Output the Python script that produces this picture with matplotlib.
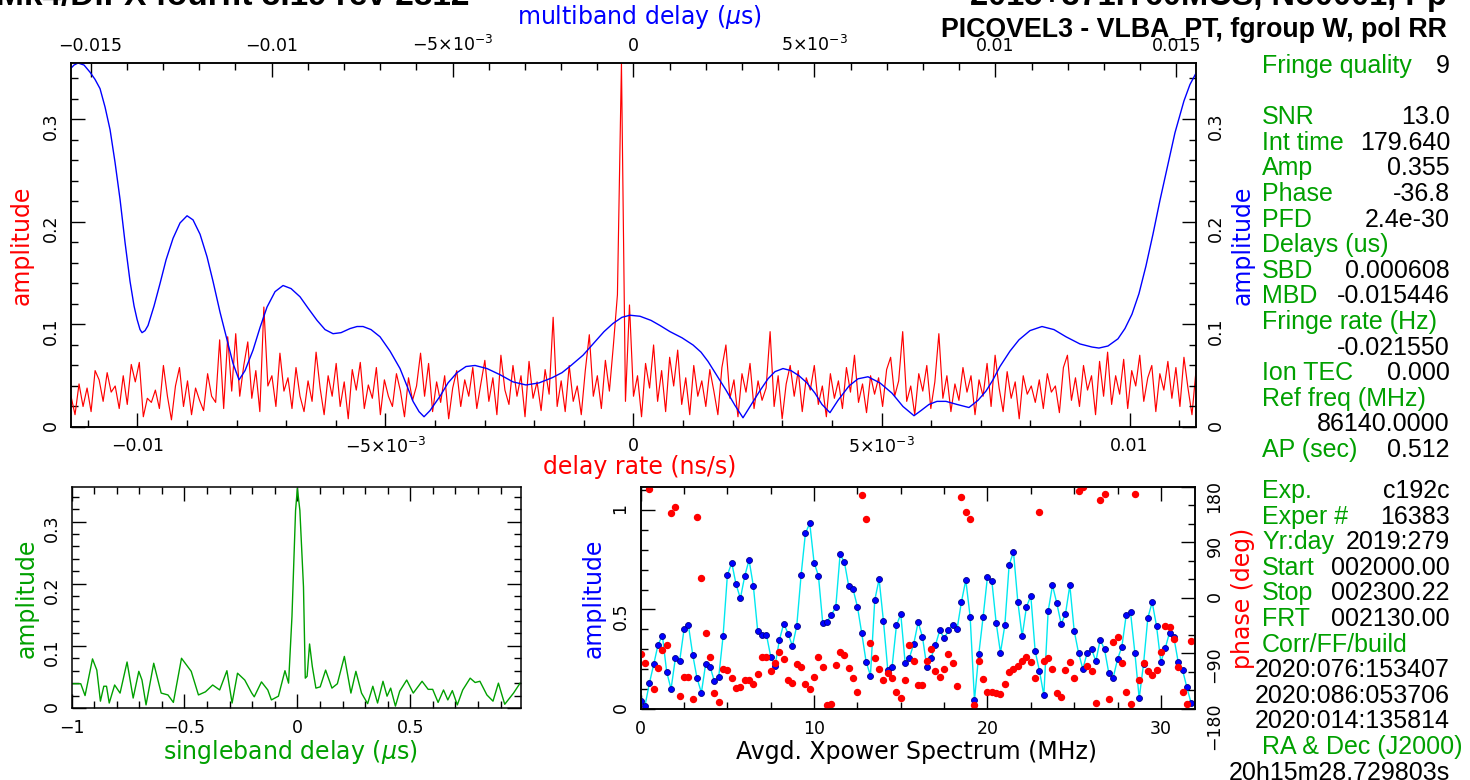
import numpy as np
import matplotlib
matplotlib.use('Agg')
import matplotlib.pyplot as plt
from matplotlib.ticker import MultipleLocator

# colores estilo fourfit
RED = '#ff0000'
BLUE = '#0000ff'
GREEN = '#00a000'
CYAN = '#00e8f0'

W, H = 1470, 780

# espectro de delay rate (ns/s), curva roja
rate_lo, rate_hi = -0.01134, 0.01134
rate_amp = [
    0.030, 0.012, 0.042, 0.020, 0.038, 0.015, 0.055, 0.046, 0.025, 0.053, 0.034, 0.040, 0.018, 0.050, 0.022, 0.061, 0.044, 0.063, 0.010, 0.028,
    0.024, 0.036, 0.018, 0.060, 0.030, 0.007, 0.040, 0.058, 0.020, 0.045, 0.012, 0.038, 0.026, 0.016, 0.052, 0.030, 0.024, 0.085, 0.018, 0.088,
    0.035, 0.091, 0.030, 0.060, 0.083, 0.028, 0.055, 0.015, 0.117, 0.040, 0.050, 0.020, 0.072, 0.035, 0.048, 0.018, 0.058, 0.030, 0.015, 0.045,
    0.025, 0.073, 0.038, 0.012, 0.050, 0.030, 0.062, 0.020, 0.044, 0.008, 0.056, 0.036, 0.063, 0.018, 0.041, 0.028, 0.058, 0.012, 0.046, 0.030,
    0.020, 0.052, 0.035, 0.010, 0.048, 0.026, 0.040, 0.072, 0.030, 0.062, 0.015, 0.044, 0.024, 0.050, 0.008, 0.038, 0.055, 0.020, 0.046, 0.030,
    0.058, 0.018, 0.042, 0.065, 0.025, 0.048, 0.012, 0.070, 0.036, 0.022, 0.060, 0.030, 0.050, 0.010, 0.064, 0.028, 0.044, 0.016, 0.056, 0.032,
    0.107, 0.020, 0.045, 0.015, 0.060, 0.025, 0.040, 0.012, 0.055, 0.090, 0.030, 0.050, 0.018, 0.065, 0.035, 0.080, 0.129, 0.355, 0.025, 0.119,
    0.030, 0.050, 0.010, 0.062, 0.038, 0.080, 0.025, 0.055, 0.015, 0.068, 0.040, 0.075, 0.022, 0.048, 0.012, 0.060, 0.030, 0.045, 0.020, 0.056,
    0.035, 0.012, 0.058, 0.080, 0.028, 0.046, 0.010, 0.052, 0.034, 0.062, 0.018, 0.045, 0.026, 0.038, 0.093, 0.020, 0.050, 0.008, 0.042, 0.060,
    0.030, 0.055, 0.015, 0.048, 0.036, 0.060, 0.022, 0.040, 0.010, 0.052, 0.028, 0.045, 0.018, 0.058, 0.034, 0.070, 0.024, 0.042, 0.014, 0.050,
    0.032, 0.048, 0.020, 0.056, 0.068, 0.030, 0.045, 0.093, 0.025, 0.040, 0.012, 0.052, 0.035, 0.060, 0.018, 0.044, 0.091, 0.028, 0.050, 0.015,
    0.042, 0.026, 0.058, 0.034, 0.050, 0.012, 0.046, 0.030, 0.062, 0.020, 0.070, 0.038, 0.015, 0.054, 0.028, 0.044, 0.008, 0.050, 0.032, 0.040,
    0.024, 0.046, 0.018, 0.052, 0.034, 0.040, 0.014, 0.058, 0.070, 0.026, 0.048, 0.020, 0.060, 0.036, 0.050, 0.012, 0.064, 0.030, 0.073, 0.022,
    0.050, 0.032, 0.066, 0.018, 0.055, 0.040, 0.070, 0.025, 0.048, 0.060, 0.015, 0.052, 0.036, 0.064, 0.028, 0.058, 0.020, 0.068, 0.038, 0.012, 0.055,
]

# multiband delay (us), curva azul
mbd = [-0.015539, -0.015456, -0.015345, -0.015180, -0.015014, -0.014876, -0.014738, -0.014599, -0.014461, -0.014323,
       -0.014185, -0.014047, -0.013909, -0.013798, -0.013715, -0.013633, -0.013577, -0.013494, -0.013412, -0.013246,
       -0.013080, -0.012914, -0.012721, -0.012528, -0.012334, -0.012169, -0.011975, -0.011782, -0.011616, -0.011423,
       -0.011229, -0.011064, -0.010898, -0.010732, -0.010511, -0.010318, -0.010124, -0.009903, -0.009682, -0.009461,
       -0.009213, -0.008992, -0.008743, -0.008522, -0.008301, -0.008080, -0.007831, -0.007638, -0.007472, -0.007251,
       -0.007003, -0.006726, -0.006450, -0.006257, -0.006091, -0.005925, -0.005787, -0.005622, -0.005345, -0.005124,
       -0.004876, -0.004627, -0.004378, -0.004047, -0.003688, -0.003329, -0.002970, -0.002610, -0.002251, -0.001975,
       -0.001727, -0.001395, -0.001091, -0.000815, -0.000566, -0.000318, -0.000097, 0.000180, 0.000483, 0.000732,
       0.001008, 0.001340, 0.001644, 0.001865, 0.002058, 0.002307, 0.002555, 0.002804, 0.003025, 0.003218,
       0.003467, 0.003715, 0.003909, 0.004130, 0.004351, 0.004572, 0.004793, 0.005014, 0.005207, 0.005428,
       0.005649, 0.005953, 0.006202, 0.006478, 0.006809, 0.007141, 0.007445, 0.007749, 0.007942, 0.008163,
       0.008384, 0.008633, 0.008936, 0.009268, 0.009517, 0.009738, 0.009931, 0.010124, 0.010401, 0.010649,
       0.010953, 0.011285, 0.011616, 0.011948, 0.012334, 0.012666, 0.012859, 0.013108, 0.013384, 0.013577,
       0.013771, 0.013964, 0.014157, 0.014351, 0.014544, 0.014765, 0.014959, 0.015207, 0.015373, 0.015539]
mbd_amp = [0.350, 0.353, 0.355, 0.353, 0.346, 0.339, 0.330, 0.312, 0.290, 0.258,
           0.222, 0.180, 0.142, 0.118, 0.105, 0.095, 0.092, 0.094, 0.099, 0.118,
           0.140, 0.163, 0.184, 0.199, 0.206, 0.202, 0.188, 0.166, 0.142, 0.112,
           0.085, 0.062, 0.046, 0.055, 0.075, 0.097, 0.117, 0.132, 0.138, 0.135,
           0.127, 0.116, 0.104, 0.095, 0.091, 0.092, 0.096, 0.098, 0.098, 0.095,
           0.088, 0.074, 0.057, 0.040, 0.025, 0.015, 0.010, 0.016, 0.030, 0.043,
           0.053, 0.059, 0.060, 0.057, 0.051, 0.044, 0.041, 0.043, 0.048, 0.053,
           0.060, 0.070, 0.082, 0.093, 0.101, 0.107, 0.109, 0.108, 0.104, 0.099,
           0.093, 0.087, 0.080, 0.073, 0.064, 0.050, 0.036, 0.021, 0.009, 0.020,
           0.034, 0.047, 0.054, 0.057, 0.055, 0.050, 0.043, 0.033, 0.022, 0.014,
           0.026, 0.040, 0.047, 0.049, 0.043, 0.033, 0.020, 0.011, 0.016, 0.022,
           0.025, 0.025, 0.022, 0.019, 0.026, 0.035, 0.046, 0.059, 0.074, 0.085,
           0.094, 0.098, 0.095, 0.088, 0.081, 0.078, 0.077, 0.079, 0.086, 0.096,
           0.110, 0.130, 0.157, 0.188, 0.221, 0.256, 0.287, 0.318, 0.334, 0.345]

# singleband delay (us), curva verde
sbd = [-0.998, -0.959, -0.940, -0.907, -0.888, -0.872, -0.857, -0.845, -0.833, -0.809,
       -0.785, -0.754, -0.727, -0.702, -0.688, -0.670, -0.636, -0.603, -0.573, -0.549,
       -0.513, -0.470, -0.438, -0.407, -0.375, -0.344, -0.312, -0.289, -0.265, -0.233,
       -0.202, -0.191, -0.159, -0.131, -0.115, -0.084, -0.055, -0.039, -0.024, -0.008,
       0.000, 0.011, 0.027, 0.035, 0.043, 0.054, 0.066, 0.082, 0.101, 0.125,
       0.153, 0.177, 0.208, 0.237, 0.259, 0.284, 0.311, 0.334, 0.355, 0.379,
       0.397, 0.413, 0.434, 0.453, 0.484, 0.513, 0.552, 0.579, 0.599, 0.623,
       0.647, 0.666, 0.686, 0.708, 0.732, 0.765, 0.787, 0.808, 0.839, 0.866,
       0.890, 0.918, 0.957, 0.986]
sbd_amp = [0.039, 0.039, 0.020, 0.079, 0.061, 0.011, 0.035, 0.035, 0.008, 0.037,
           0.024, 0.074, 0.016, 0.059, 0.045, 0.005, 0.072, 0.024, 0.021, 0.009,
           0.080, 0.059, 0.021, 0.026, 0.037, 0.029, 0.060, 0.008, 0.056, 0.045,
           0.024, 0.018, 0.042, 0.029, 0.013, 0.019, 0.060, 0.040, 0.147, 0.318,
           0.353, 0.318, 0.195, 0.048, 0.051, 0.103, 0.067, 0.032, 0.034, 0.061,
           0.032, 0.039, 0.083, 0.024, 0.059, 0.024, 0.007, 0.035, 0.008, 0.043,
           0.019, 0.032, 0.003, 0.027, 0.045, 0.024, 0.043, 0.030, 0.030, 0.009,
           0.029, 0.013, 0.028, 0.005, 0.029, 0.048, 0.041, 0.043, 0.021, 0.011,
           0.040, 0.006, 0.024, 0.040]

# espectro cruzado promedio, canales de 0.25 MHz
FREQ_STEP = 0.25
xp_amp = [0.040, 0.017, 0.129, 0.224, 0.323, 0.369, 0.186, 0.100, 0.255, 0.243,
          0.400, 0.422, 0.273, 0.154, 0.082, 0.228, 0.213, 0.139, 0.161, 0.365,
          0.673, 0.735, 0.626, 0.556, 0.668, 0.749, 0.616, 0.390, 0.370, 0.374,
          0.263, 0.218, 0.347, 0.429, 0.379, 0.317, 0.417, 0.672, 0.883, 0.933,
          0.735, 0.670, 0.430, 0.439, 0.474, 0.511, 0.777, 0.737, 0.616, 0.601,
          0.514, 0.380, 0.238, 0.168, 0.548, 0.652, 0.442, 0.196, 0.213, 0.420,
          0.477, 0.233, 0.258, 0.328, 0.436, 0.363, 0.213, 0.258, 0.322, 0.395,
          0.355, 0.395, 0.422, 0.404, 0.539, 0.648, 0.464, 0.045, 0.276, 0.464,
          0.665, 0.645, 0.434, 0.283, 0.420, 0.724, 0.789, 0.539, 0.365, 0.514,
          0.568, 0.291, 0.191, 0.069, 0.492, 0.621, 0.531, 0.427, 0.479, 0.621,
          0.394, 0.283, 0.201, 0.283, 0.302, 0.240, 0.348, 0.300, 0.179, 0.157,
          0.250, 0.313, 0.471, 0.486, 0.283, 0.054, 0.226, 0.459, 0.536, 0.417,
          0.235, 0.305, 0.384, 0.360, 0.236, 0.196, 0.109, 0.028]
xp_phase = [-90.7, -105.8, 176.5, -147.3, -112.8, -84.2, -76.1, 137.1, 146.8, -158.7,
            -127.4, -127.9, -164.1, 131.2, 31.8, -57.2, -95.0, -153.3, -168.4, -115.5,
            -116.6, -129.0, -146.3, -143.6, -132.8, -132.8, -139.2, -123.1, -95.0, -95.0,
            -118.7, -104.7, -88.0, -99.3, -133.8, -137.1, -106.9, -112.3, -139.2, -147.9,
            -128.4, -96.1, -111.2, -173.2, -172.2, -108.5, -87.4, -92.8, -113.9, -129.0,
            -151.7, 166.8, 128.4, -73.4, -97.7, -115.5, -132.8, -122.0, -130.1, -152.2,
            -161.9, -132.8, -76.1, -102.5, -141.4, -141.4, -102.5, -83.1, -118.2, -127.4,
            -115.0, -91.2, -104.7, -142.5, 163.5, 138.7, 127.9, -173.8, -102.0, -131.7,
            -151.7, -151.7, -154.4, -156.0, -139.2, -120.4, -115.5, -110.1, -102.5, -95.0,
            -103.1, -129.0, 139.2, -102.0, -96.6, -115.5, -154.4, -160.3, -116.6, -103.1,
            -130.1, 173.2, 179.7, -109.6, -118.2, -169.5, 158.1, 168.4, -163.0, -70.7,
            -64.2, -105.8, -152.2, -172.7, 168.4, -133.3, -105.8, -118.2, -124.7, -116.6,
            -88.5, -45.3, -47.0, -66.4, -111.7, -152.2, -172.7, -70.2]

# ticks
rate_ticks = [-0.01, -0.005, 0, 0.005, 0.01]
rate_labels = ['\u22120.01', '\u22125\u00d710$^{\u22123}$', '0', '5\u00d710$^{\u22123}$', '0.01']
mbd_ticks = [-0.015, -0.01, -0.005, 0, 0.005, 0.01, 0.015]
mbd_labels = ['\u22120.015', '\u22120.01', '\u22125\u00d710$^{\u22123}$', '0', '5\u00d710$^{\u22123}$', '0.01', '0.015']

# panel de texto
info_top = [('Fringe quality', '9'), None, ('SNR', '13.0'), ('Int time', '179.640'),
            ('Amp', '0.355'), ('Phase', '-36.8'), ('PFD', '2.4e-30'), ('Delays (us)', ''),
            ('SBD', '0.000608'), ('MBD', '-0.015446'), ('Fringe rate (Hz)', ''),
            ('', '-0.021550'), ('Ion TEC', '0.000'), ('Ref freq (MHz)', ''),
            ('', '86140.0000'), ('AP (sec)', '0.512')]
info_bot = [('Exp.', 'c192c'), ('Exper #', '16383'), ('Yr:day', '2019:279'),
            ('Start', '002000.00'), ('Stop', '002300.22'), ('FRT', '002130.00'),
            ('Corr/FF/build', ''), ('', '2020:076:153407'), ('', '2020:086:053706'),
            ('', '2020:014:135814'), ('RA & Dec (J2000)', ''), ('', '20h15m28.729803s')]

plt.rcParams['font.family'] = ['DejaVu Sans']
plt.rcParams['mathtext.fontset'] = 'dejavusans'
TICK_FS = 12.5
LAB_FS = 17
INFO_FS = 18


def px_rect(x0, y0, x1, y1):
    return [x0 / W, 1 - y1 / H, (x1 - x0) / W, (y1 - y0) / H]


def estilo(ax):
    ax.tick_params(which='both', direction='in', width=1, colors='black', labelsize=TICK_FS)
    ax.tick_params(which='major', length=10)
    ax.tick_params(which='minor', length=5)
    for s in ax.spines.values():
        s.set_linewidth(1.1)


def fig_text(x, y, s, **kw):
    fig.text(x / W, 1 - y / H, s, **kw)


fig = plt.figure(figsize=(W / 100, H / 100), dpi=100)

# grafico principal: delay rate (abajo/izq) y multiband delay (arriba/der)
ax = fig.add_axes(px_rect(71, 63, 1196, 427))
rate_x = np.linspace(rate_lo, rate_hi, len(rate_amp))
ax.plot(rate_x, rate_amp, color=RED, lw=0.85)
ax.set_xlim(rate_lo, rate_hi)
ax.set_ylim(0, 0.355)
ax.set_xticks(rate_ticks, rate_labels)
ax.xaxis.set_minor_locator(MultipleLocator(0.001))
ax.set_yticks([0, 0.1, 0.2, 0.3], ['0', '0.1', '0.2', '0.3'])
ax.yaxis.set_minor_locator(MultipleLocator(0.02))
estilo(ax)
ax.tick_params(axis='y', labelrotation=90, pad=8)
ax.tick_params(axis='x', pad=7)

ax2 = fig.add_axes(px_rect(71, 63, 1196, 427), facecolor='none')
ax2.plot(mbd, mbd_amp, color=BLUE, lw=1.0)
ax2.set_xlim(-0.01554, 0.01554)
ax2.set_ylim(0, 0.355)
ax2.xaxis.tick_top()
ax2.yaxis.tick_right()
ax2.set_xticks(mbd_ticks, mbd_labels)
ax2.xaxis.set_minor_locator(MultipleLocator(0.001))
ax2.set_yticks([0, 0.1, 0.2, 0.3], ['0', '0.1', '0.2', '0.3'])
ax2.yaxis.set_minor_locator(MultipleLocator(0.02))
estilo(ax2)
ax2.tick_params(axis='y', labelrotation=90, pad=8)
ax2.tick_params(axis='x', pad=6)

fig_text(640, 17, 'multiband delay ($\\mu$s)', color=BLUE, fontsize=LAB_FS, ha='center', va='center')
fig_text(640, 467, 'delay rate (ns/s)', color=RED, fontsize=LAB_FS, ha='center', va='center')
fig_text(22, 245, 'amplitude', color=RED, fontsize=LAB_FS, ha='center', va='center', rotation=90)
fig_text(1243, 245, 'amplitude', color=BLUE, fontsize=LAB_FS, ha='center', va='center', rotation=90)

# singleband delay
ax3 = fig.add_axes(px_rect(71.5, 486.7, 521, 708))
ax3.plot(sbd, sbd_amp, color=GREEN, lw=1.0)
ax3.set_xlim(-1, 0.99)
ax3.set_ylim(0, 0.356)
ax3.set_xticks([-1, -0.5, 0, 0.5], ['\u22121', '\u22120.5', '0', '0.5'])
ax3.xaxis.set_minor_locator(MultipleLocator(0.1))
ax3.set_yticks([0, 0.1, 0.2, 0.3], ['0', '0.1', '0.2', '0.3'])
ax3.yaxis.set_minor_locator(MultipleLocator(0.02))
estilo(ax3)
ax3.tick_params(top=True, right=True, which='both')
ax3.tick_params(axis='y', labelrotation=90, pad=8)
ax3.tick_params(axis='x', pad=8)
fig_text(27, 598, 'amplitude', color=GREEN, fontsize=LAB_FS, ha='center', va='center', rotation=90)
fig_text(290, 752, 'singleband delay ($\\mu$s)', color=GREEN, fontsize=LAB_FS, ha='center', va='center')

# espectro cruzado
ax4 = fig.add_axes(px_rect(640.7, 486.7, 1194.5, 709))
freq = np.arange(len(xp_amp)) * FREQ_STEP
ax4.plot(freq, xp_amp, color=CYAN, lw=1.0)
ax4.plot(freq, xp_amp, 'o', color=BLUE, mec='#00008b', mew=0.6, ms=4.3)
ax4.set_xlim(0, 31.94)
ax4.set_ylim(0, 1.117)
ax4.set_xticks([0, 10, 20, 30], ['0', '10', '20', '30'])
ax4.xaxis.set_minor_locator(MultipleLocator(2.5))
ax4.set_yticks([0, 0.5, 1], ['0', '0.5', '1'])
ax4.yaxis.set_minor_locator(MultipleLocator(0.1))
estilo(ax4)
ax4.tick_params(top=True, which='both')
ax4.tick_params(axis='y', labelrotation=90, pad=8)
ax4.tick_params(axis='x', pad=8)

ax5 = ax4.twinx()
ax5.plot(freq, xp_phase, 'o', color=RED, mec=RED, ms=4.3)
ax5.set_ylim(-180, 180)
ax5.set_yticks([-180, -90, 0, 90, 180], ['\u2212180', '\u221290', '0', '90', '180'])
ax5.yaxis.set_minor_locator(MultipleLocator(30))
estilo(ax5)
ax5.tick_params(axis='y', labelrotation=90, pad=8)
fig_text(594, 598, 'amplitude', color=BLUE, fontsize=LAB_FS, ha='center', va='center', rotation=90)
fig_text(917, 752, 'Avgd. Xpower Spectrum (MHz)', color='black', fontsize=LAB_FS, ha='center', va='center')
fig_text(1243, 598, 'phase (deg)', color=RED, fontsize=LAB_FS, ha='center', va='center', rotation=90)

# cabeceras (cortadas arriba como en el original)
fig_text(-4, 5, 'Mk4/DiFX fourfit 3.19 rev 2812', family='Liberation Sans', weight='bold',
         fontsize=24, ha='left', va='baseline')
fig_text(1447, 5, '2015+371.T60MCS, No0001, Pp', family='Liberation Sans', weight='bold',
         fontsize=23.5, ha='right', va='baseline')
fig_text(1447, 37, 'PICOVEL3 - VLBA_PT, fgroup W, pol RR', family='Liberation Sans', weight='bold',
         fontsize=19.3, ha='right', va='baseline')

# panel de resultados
for y0, rows in ((66, info_top), (491, info_bot)):
    for i, row in enumerate(rows):
        if row is None:
            continue
        y = y0 + i * 25.6
        if row[0]:
            fig_text(1262, y, row[0], color=GREEN, family='Liberation Sans', fontsize=INFO_FS, ha='left', va='center')
        if row[1]:
            fig_text(1450, y, row[1], color='black', family='Liberation Sans', fontsize=INFO_FS, ha='right', va='center')

fig.savefig('out.png', dpi=100)
